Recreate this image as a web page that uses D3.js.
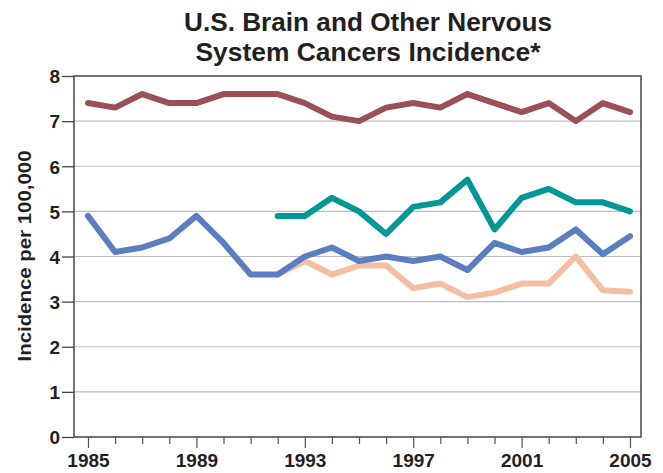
<!DOCTYPE html>
<meta charset="utf-8">
<style>
body { margin: 0; background: #fff; }
text { font-family: Arial, "Liberation Sans", Helvetica, sans-serif; fill: #231f20; }
.title { font-size: 26px; font-weight: bold; text-anchor: middle; }
.tick-label { font-size: 19px; font-weight: bold; }
.ylabel { font-size: 18px; font-weight: bold; text-anchor: middle; }
</style>
<svg width="663" height="473"></svg>
<script src="https://d3js.org/d3.v7.min.js"></script>
<script>

var years = d3.range(1985, 2006);
var yearTicks = [1985, 1989, 1993, 1997, 2001, 2005];
var valueTicks = [0, 1, 2, 3, 4, 5, 6, 7, 8];

var maroonValues = [7.4, 7.3, 7.6, 7.4, 7.4, 7.6, 7.6, 7.6, 7.4, 7.1, 7.0,
                    7.3, 7.4, 7.3, 7.6, 7.4, 7.2, 7.4, 7.0, 7.4, 7.2];
var blueValues = [4.9, 4.1, 4.2, 4.4, 4.9, 4.3, 3.6, 3.6, 4.0, 4.2, 3.9,
                  4.0, 3.9, 4.0, 3.7, 4.3, 4.1, 4.2, 4.6, 4.05, 4.45];
// these two start in 1992
var tealValues = [4.9, 4.9, 5.3, 5.0, 4.5, 5.1, 5.2, 5.7, 4.6, 5.3, 5.5, 5.2, 5.2, 5.0];
var peachValues = [3.6, 3.9, 3.6, 3.8, 3.8, 3.3, 3.4, 3.1, 3.2, 3.4, 3.4, 4.0, 3.25, 3.22];

var svg = d3.select("svg");
var plotLeft = 74, plotRight = 641, plotTop = 76, plotBottom = 437;

var x = d3.scaleLinear().domain([1985, 2005]).range([88, 630]);
var y = d3.scaleLinear().domain([0, 8]).range([plotBottom, plotTop]);

// grid
svg.append("g").selectAll("line")
  .data(valueTicks.filter(function(d) { return d > 0 && d < 8; }))
  .enter().append("line")
    .attr("x1", plotLeft).attr("x2", plotRight)
    .attr("y1", function(d) { return y(d); })
    .attr("y2", function(d) { return y(d); })
    .attr("stroke", "#bdbdbd").attr("stroke-width", 1.2);

// frame
svg.append("rect")
    .attr("x", plotLeft).attr("y", plotTop)
    .attr("width", plotRight - plotLeft).attr("height", plotBottom - plotTop)
    .attr("fill", "none").attr("stroke", "#444").attr("stroke-width", 1.5);

// y axis
var yAxis = svg.append("g")
    .attr("transform", "translate(" + plotLeft + ",0)")
    .call(d3.axisLeft(y).tickValues(valueTicks).tickSize(12).tickPadding(2));
yAxis.select(".domain").remove();
yAxis.selectAll("line").attr("stroke", "#444").attr("stroke-width", 1.3);
yAxis.selectAll("text").attr("class", "tick-label").attr("dy", "0.36em").attr("fill", "#231f20");

// x axis
var xAxis = svg.append("g")
    .attr("transform", "translate(0," + plotBottom + ")")
    .call(d3.axisBottom(x).tickValues(years).tickSize(7)
      .tickFormat(function(d) { return yearTicks.indexOf(d) >= 0 ? d : ""; }));
xAxis.select(".domain").remove();
xAxis.selectAll("line")
    .attr("stroke", "#555").attr("stroke-width", 1.2)
    .attr("y2", function(d) { return yearTicks.indexOf(d) >= 0 ? 11 : 7; });
xAxis.selectAll("text").attr("class", "tick-label")
    .attr("y", 30).attr("dy", 0).attr("fill", "#231f20");

var line = d3.line()
    .x(function(d) { return x(d[0]); })
    .y(function(d) { return y(d[1]); });

function pairs(start, vals) {
  return vals.map(function(v, i) { return [start + i, v]; });
}

var series = [
  { values: pairs(1992, peachValues), color: "#f5bea2" },
  { values: pairs(1985, blueValues), color: "#5b7ec1" },
  { values: pairs(1992, tealValues), color: "#009797" },
  { values: pairs(1985, maroonValues), color: "#9b5058" }
];

svg.append("g").selectAll("path")
  .data(series)
  .enter().append("path")
    .attr("d", function(d) { return line(d.values); })
    .attr("fill", "none")
    .attr("stroke", function(d) { return d.color; })
    .attr("stroke-width", 6)
    .attr("stroke-linejoin", "round")
    .attr("stroke-linecap", "round");

// titles
svg.append("text").attr("class", "title").attr("x", 368).attr("y", 31)
    .attr("textLength", 368).attr("lengthAdjust", "spacingAndGlyphs")
    .text("U.S. Brain and Other Nervous");
svg.append("text").attr("class", "title").attr("x", 368).attr("y", 61)
    .attr("textLength", 345).attr("lengthAdjust", "spacingAndGlyphs")
    .text("System Cancers Incidence*");

svg.append("text").attr("class", "ylabel")
    .attr("transform", "translate(31," + 256 + ") rotate(-90)")
    .attr("textLength", 211).attr("lengthAdjust", "spacingAndGlyphs")
    .text("Incidence per 100,000");

</script>
